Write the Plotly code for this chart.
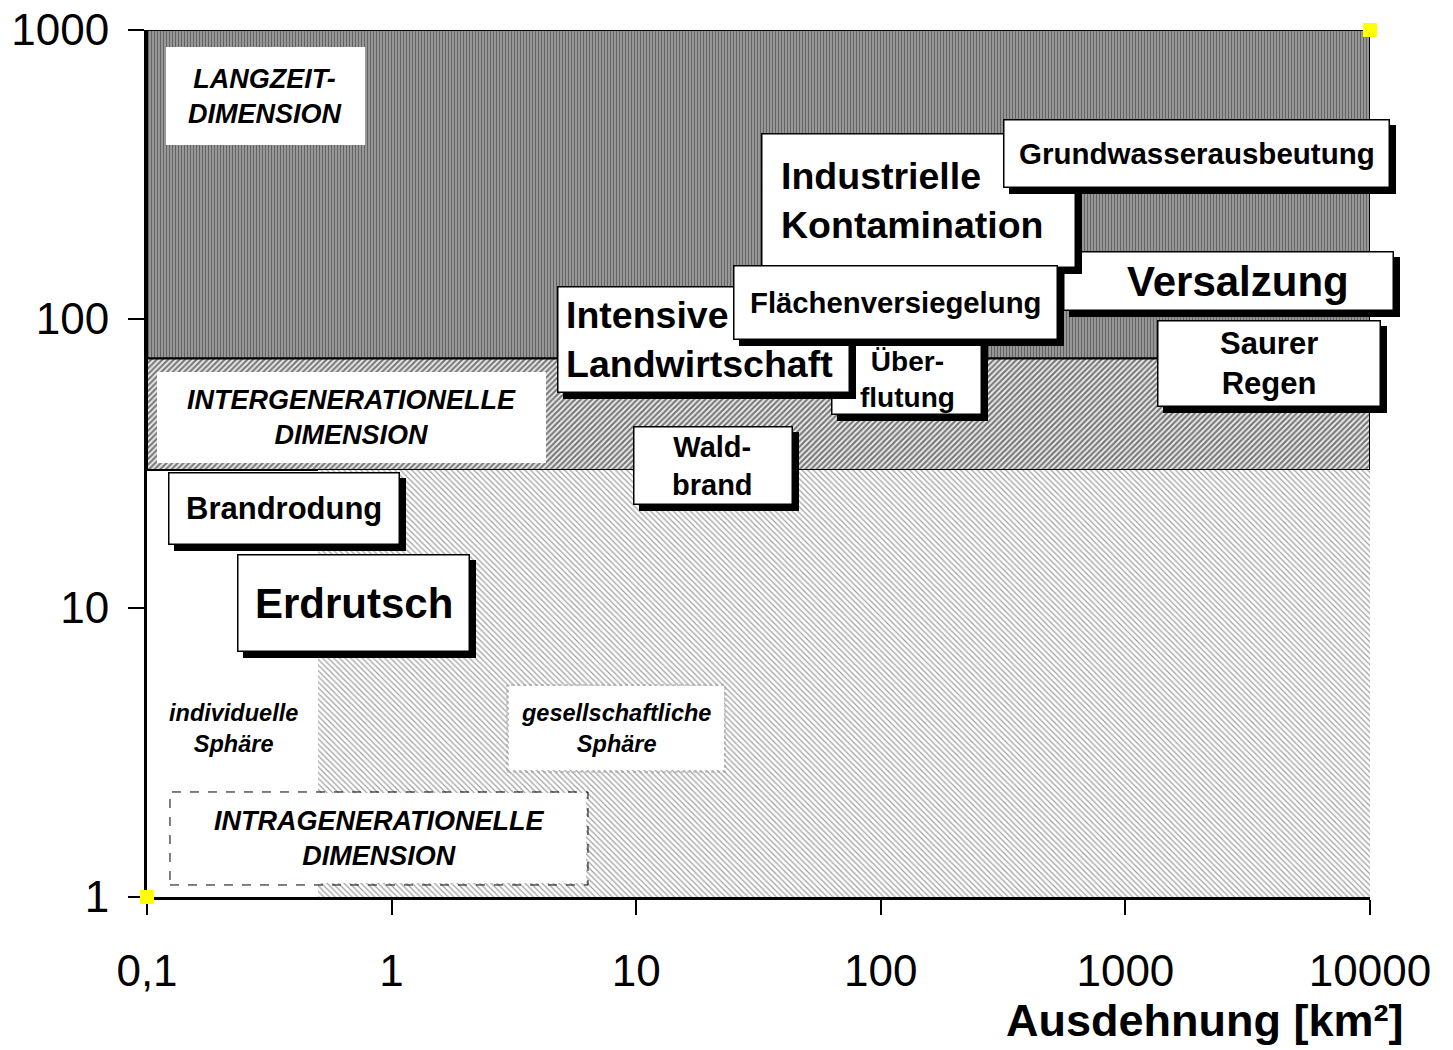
import numpy as np
import plotly.graph_objects as go

# ---------------- data ----------------
# dimension zones (area in km², duration in years)
zone_names = ["Langzeit-Dimension", "Intergenerationelle Dimension", "Intragenerationelle Dimension"]
zone_x_min = [0.1, 0.1, 0.5]
zone_x_max = [10000, 10000, 10000]
zone_y_min = [73, 30, 1]
zone_y_max = [1000, 73, 30]

# phenomena: label, extent [km²], duration [years]  (drawing order back -> front)
phen_labels = ["Versalzung", "Industrielle<br>Kontamination", "Grundwasserausbeutung",
               "Über-<br>flutung", "Intensive<br>Landwirtschaft", "Flächenversiegelung",
               "Saurer<br>Regen", "Wald-<br>brand", "Brandrodung", "Erdrutsch"]
phen_area = [2639, 142.6, 1953, 127, 18.8, 114.8, 3865, 20.6, 0.363, 0.699]
phen_time = [135, 257, 374, 68, 84.9, 114, 70.2, 31.1, 22.1, 10.4]

# dimension labels
dim_labels = ["LANGZEIT-<br>DIMENSION", "INTERGENERATIONELLE<br>DIMENSION", "INTRAGENERATIONELLE<br>DIMENSION"]
dim_area = [0.305, 0.685, 0.888]
dim_time = [591, 45.6, 1.594]

# sphere labels
sphere_labels = ["individuelle<br>Sphäre", "gesellschaftliche<br>Sphäre"]
sphere_area = [0.2247, 8.27]
sphere_time = [3.84, 3.83]

# corner points of the diagram
corner_x = [0.1, 10000]
corner_y = [1, 1000]

x_tickvals = [0.1, 1, 10, 100, 1000, 10000]
x_ticktext = ["0,1", "1", "10", "100", "1000", "10000"]
y_tickvals = [1, 10, 100, 1000]
y_ticktext = ["1", "10", "100", "1000"]

# ---------------- styles ----------------
FONT = "Liberation Sans, Arial, sans-serif"
W, H = 1453, 1050
ML, MR, MT, MB = 139, 91, 22, 161   # page body adds an 8 px offset
PPDX = (W - ML - MR) / 5.0   # pixels per decade, x
PPDY = (H - MT - MB) / 3.0   # pixels per decade, y

zone_patterns = [
    dict(shape="|", fgcolor="#1e1e1e", bgcolor="#a8a8a8", size=3, solidity=0.5),
    dict(shape="/", fgcolor="#000000", bgcolor="#f4f4f4", size=4, solidity=0.55),
    dict(shape="\\", fgcolor="#444444", bgcolor="#ffffff", size=4, solidity=0.32),
]
zone_line_w = [2, 2, 0]

# box style per phenomenon: width, height (px), font size, text x/y shift, anchor
phen_box_w = [331, 315, 387, 151, 293, 325, 224, 160, 232, 233]
phen_box_h = [60, 135, 69, 95, 107, 75, 87, 79, 73, 98]
phen_font = [42, 37.5, 29.5, 28, 37.5, 29.3, 31, 29, 31, 42]
phen_tx = [10, -140, 0, 1.5, -139, 0, 0, 0, 0, 0]
phen_ty = [0, 0, 0, -12.5, 0, 0, 0, 0, 0, 0]
phen_anchor = ["center", "left", "center", "center", "left", "center", "center", "center", "center", "center"]
SHADOW = 6
BW = 1.5

dim_box_w = [199, 389, 418]
dim_box_h = [98, 91, 93]
sphere_box_w = [0, 218]
sphere_box_h = [0, 87]

fig = go.Figure()

# zones
for i in range(3):
    x0, x1, y0, y1 = zone_x_min[i], zone_x_max[i], zone_y_min[i], zone_y_max[i]
    fig.add_trace(go.Scatter(
        x=[x0, x1, x1, x0, x0], y=[y0, y0, y1, y1, y0],
        mode="lines", fill="toself", fillpattern=zone_patterns[i],
        fillcolor=zone_patterns[i]["bgcolor"],
        line=dict(color="black", width=zone_line_w[i]) if zone_line_w[i] else dict(width=0, color="rgba(0,0,0,0)"),
        name=zone_names[i], hoverinfo="skip", showlegend=False, cliponaxis=False,
    ))

# corner markers
fig.add_trace(go.Scatter(
    x=corner_x, y=corner_y, mode="markers",
    marker=dict(symbol="square", size=14, color="#ffff00", line=dict(width=0)),
    showlegend=False, hoverinfo="skip", cliponaxis=False,
))

shapes = []
annotations = []


def box_annot(xc, yc, w, h, bg, border=None, dx=0, dy=0):
    bw = BW if border else 0
    return dict(x=np.log10(xc), y=np.log10(yc), xref="x", yref="y", text=" ",
                showarrow=False, xanchor="center", yanchor="middle",
                width=w - 2 * bw, height=h - 2 * bw, borderpad=0,
                bgcolor=bg, bordercolor=border if border else "rgba(0,0,0,0)",
                borderwidth=bw, xshift=dx, yshift=-dy, font=dict(size=2))


def dashed_rect(xc, yc, w, h, line):
    return dict(type="rect", xref="x", yref="y", layer="above",
                x0=xc * 10 ** (-(w / 2) / PPDX), x1=xc * 10 ** ((w / 2) / PPDX),
                y0=yc * 10 ** (-(h / 2) / PPDY), y1=yc * 10 ** ((h / 2) / PPDY),
                fillcolor="rgba(0,0,0,0)", line=line)


# dimension label boxes (white, no shadow)
for i in range(3):
    if i == 2:
        shapes.append(dashed_rect(dim_area[i], dim_time[i], dim_box_w[i], dim_box_h[i],
                                  dict(color="black", width=1, dash="dash")))
        annotations.append(box_annot(dim_area[i], dim_time[i], dim_box_w[i] - 3, dim_box_h[i] - 3, "white"))
    else:
        annotations.append(box_annot(dim_area[i], dim_time[i], dim_box_w[i], dim_box_h[i], "white"))
    annotations.append(dict(
        x=np.log10(dim_area[i]), y=np.log10(dim_time[i]), xref="x", yref="y",
        text="<b><i>" + dim_labels[i] + "</i></b>", showarrow=False,
        font=dict(family=FONT, size=27, color="black"), align="center",
    ))

# sphere labels (society sphere in a dotted box)
shapes.append(dashed_rect(sphere_area[1], sphere_time[1], sphere_box_w[1], sphere_box_h[1],
                          dict(color="#9a9a9a", width=1, dash="dot")))
annotations.append(box_annot(sphere_area[1], sphere_time[1], sphere_box_w[1] - 3, sphere_box_h[1] - 3, "white"))
for i in range(2):
    annotations.append(dict(
        x=np.log10(sphere_area[i]), y=np.log10(sphere_time[i]), xref="x", yref="y",
        text="<b><i>" + sphere_labels[i] + "</i></b>", showarrow=False,
        font=dict(family=FONT, size=23.5, color="black"), align="center",
    ))

# phenomenon boxes with drop shadow
for i in range(len(phen_labels)):
    xc, yc, w, h = phen_area[i], phen_time[i], phen_box_w[i], phen_box_h[i]
    annotations.append(box_annot(xc, yc, w, h, "black", dx=SHADOW, dy=SHADOW))
    annotations.append(box_annot(xc, yc, w, h, "white", border="black"))
    annotations.append(dict(
        x=np.log10(xc), y=np.log10(yc), xref="x", yref="y",
        text="<b>" + phen_labels[i] + "</b>", showarrow=False,
        xanchor=phen_anchor[i], align=phen_anchor[i], yanchor="middle",
        xshift=phen_tx[i], yshift=phen_ty[i],
        font=dict(family=FONT, size=phen_font[i], color="black"),
    ))

# axis title
annotations.append(dict(
    x=1.0286, y=-0.142, xref="paper", yref="paper", xanchor="right", yanchor="middle",
    text="<b>Ausdehnung [km²]</b>", showarrow=False,
    font=dict(family=FONT, size=45, color="black"),
))

fig.update_layout(
    width=W, height=H,
    margin=dict(l=ML, r=MR, t=MT, b=MB, autoexpand=False),
    paper_bgcolor="white", plot_bgcolor="white",
    shapes=shapes, annotations=annotations,
    showlegend=False,
    xaxis=dict(type="log", range=[-1, 4], tickvals=x_tickvals, ticktext=x_ticktext,
               showgrid=False, zeroline=False, showline=True, linecolor="black", linewidth=3,
               ticks="outside", ticklen=15, tickwidth=2, tickcolor="black",
               ticklabelstandoff=18, layer="below traces", automargin=False,
               ticklabeloverflow="allow",
               tickfont=dict(family=FONT, size=44, color="black")),
    yaxis=dict(type="log", range=[0, 3], tickvals=y_tickvals, ticktext=y_ticktext,
               showgrid=False, zeroline=False, showline=True, linecolor="black", linewidth=3,
               ticks="outside", ticklen=16, tickwidth=2, tickcolor="black",
               ticklabelstandoff=10, layer="below traces", automargin=False,
               ticklabeloverflow="allow",
               tickfont=dict(family=FONT, size=44, color="black")),
)

fig.write_html("out.html")
